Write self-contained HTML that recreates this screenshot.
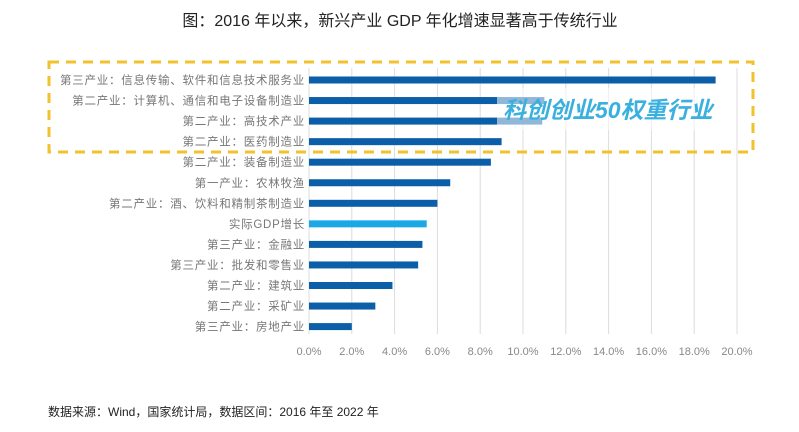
<!DOCTYPE html>
<html><head><meta charset="utf-8"><style>
body{margin:0;background:#fff;width:799px;height:432px;overflow:hidden;font-family:"Liberation Sans","Noto Sans CJK SC",sans-serif}
svg{display:block}
</style></head><body>
<svg width="799" height="432">
<text x="400" y="26" text-anchor="middle" font-size="16" fill="#222" font-family="Liberation Sans, Noto Sans CJK SC, sans-serif">图：2016 年以来，新兴产业 GDP 年化增速显著高于传统行业</text>
<g id="grid"></g><g id="bars"></g><g id="labels"></g><g id="ticks"></g>
<rect x="497" y="88" width="238" height="42" fill="#fff" opacity="0.55"/>
<text x="503" y="118" font-size="23" font-style="italic" font-weight="bold" fill="#3ab0df" font-family="Liberation Sans, Noto Sans CJK SC, sans-serif">科创创业50权重行业</text>
<rect x="49" y="62" width="704" height="90" fill="none" stroke="#f2c12e" stroke-width="3" stroke-dasharray="10,7"/>
<text x="48" y="416" font-size="12" fill="#222" font-family="Liberation Sans, Noto Sans CJK SC, sans-serif">数据来源：Wind，国家统计局，数据区间：2016 年至 2022 年</text>
</svg>
<script>
const categories=["第三产业：信息传输、软件和信息技术服务业","第二产业：计算机、通信和电子设备制造业","第二产业：高技术产业","第二产业：医药制造业","第二产业：装备制造业","第一产业：农林牧渔","第二产业：酒、饮料和精制茶制造业","实际GDP增长","第三产业：金融业","第三产业：批发和零售业","第二产业：建筑业","第二产业：采矿业","第三产业：房地产业"];
const values=[19.0,11.0,10.9,9.0,8.5,6.6,6.0,5.5,5.3,5.1,3.9,3.1,2.0];
const tickValues=[0,2,4,6,8,10,12,14,16,18,20];
const tickLabels=["0.0%","2.0%","4.0%","6.0%","8.0%","10.0%","12.0%","14.0%","16.0%","18.0%","20.0%"];
const NS="http://www.w3.org/2000/svg";
const x=v=>309+v*21.4;
const y=i=>80+i*20.55;
function mk(t,a,p){const e=document.createElementNS(NS,t);for(const k in a)e.setAttribute(k,a[k]);document.getElementById(p).appendChild(e);return e;}
tickValues.forEach((v,i)=>{
 const g=mk("line",{x1:x(v),x2:x(v),y1:68,y2:334,stroke:"#dcdcdc","stroke-width":1},"grid");
 
 
 const t=mk("text",{x:x(v),y:355,"text-anchor":"middle","font-size":11,fill:"#888"},"ticks");
 t.textContent=tickLabels[i];
 
 
});
categories.forEach((c,i)=>{
 const b=mk("rect",{x:x(0),y:y(i)-3.5,width:x(values[i])-x(0),height:7,fill:c==="实际GDP增长"?"#1aa9e6":"#0b5ea8"},"bars");
 
 
 const t=mk("text",{x:305,y:y(i)+4,"text-anchor":"end","font-size":11.5,"letter-spacing":0.75,fill:"#777"},"labels");
 t.textContent=c;
 
 
});
</script>
</body></html>
